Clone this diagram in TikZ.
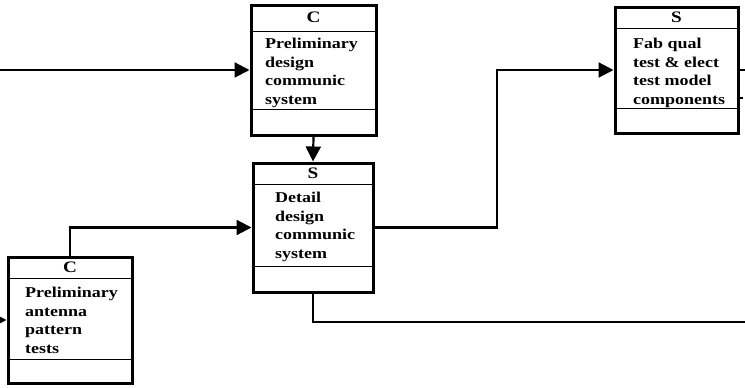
\documentclass[tikz,border=0pt]{standalone}
\usepackage{fontspec}
\setmainfont{Liberation Serif}[FakeStretch=1.2]
\usetikzlibrary{arrows.meta}
\begin{document}
\begin{tikzpicture}[x=1pt,y=-1pt,
  fbox/.style={draw, line width=3pt, inner sep=0pt},
  thinl/.style={line width=1.3pt},
  conn/.style={line width=2.2pt, -{Triangle[length=15pt,width=15pt]}},
  plainl/.style={line width=2.2pt},
  hdr/.style={inner sep=0pt, font=\fontsize{16}{16}\selectfont\bfseries},
  btxt/.style={inner sep=0pt, anchor=north west, align=left, font=\fontsize{15}{18.5}\selectfont\bfseries}]
\useasboundingbox (0,0) rectangle (745,388);
% boxes
\node[fbox, minimum width=125pt, minimum height=130pt] (c1) at (313.5,70) {};
\draw[thinl] ([yshift=-28pt]c1.north west) -- ([yshift=-28pt]c1.north east);
\draw[thinl] ([yshift=27pt]c1.south west) -- ([yshift=27pt]c1.south east);
\node[hdr] (c1h) at ([yshift=-14pt]c1.north) {C};
\node[btxt] (c1t) at (265,38) {Preliminary\\design\\communic\\system};

\node[fbox, minimum width=120pt, minimum height=129pt] (s1) at (313,227.5) {};
\draw[thinl] ([yshift=-23pt]s1.north west) -- ([yshift=-23pt]s1.north east);
\draw[thinl] ([yshift=27pt]s1.south west) -- ([yshift=27pt]s1.south east);
\node[hdr] (s1h) at ([yshift=-11.5pt]s1.north) {S};
\node[btxt] (s1t) at (275,192) {Detail\\design\\communic\\system};

\node[fbox, minimum width=124pt, minimum height=126pt] (c2) at (70,320) {};
\draw[thinl] ([yshift=-23pt]c2.north west) -- ([yshift=-23pt]c2.north east);
\draw[thinl] ([yshift=25pt]c2.south west) -- ([yshift=25pt]c2.south east);
\node[hdr] (c2h) at ([yshift=-11.5pt]c2.north) {C};
\node[btxt] (c2t) at (25,287) {Preliminary\\antenna\\pattern\\tests};

\node[fbox, minimum width=123pt, minimum height=126pt] (s2) at (676.5,70) {};
\draw[thinl] ([yshift=-23pt]s2.north west) -- ([yshift=-23pt]s2.north east);
\draw[thinl] ([yshift=26pt]s2.south west) -- ([yshift=26pt]s2.south east);
\node[hdr] (s2h) at ([yshift=-11.5pt]s2.north) {S};
\node[btxt] (s2t) at (633,38) {Fab qual\\test \& elect\\test model\\components};

% connectors
\coordinate (in1) at (0,70);
\coordinate (in2) at (0,320);
\coordinate (j1) at (497,70);
\coordinate (out1) at (745,322);
\coordinate (out2) at (745,70);
\coordinate (out3) at (745,98);
\draw[conn] (in1) -- (c1.west);
\draw[conn] (c1.south) -- (s1.north);
\draw[conn] (in2) -- (c2.west);
\draw[conn] (c2.north) |- (s1.west);
\draw[conn] (s1.east) -| (j1) -- (s2.west);
\draw[plainl] (s1.south) |- (out1);
\draw[plainl] (s2.east) -- (out2);
\draw[plainl, dashed] (s2.east |- out3) -- (out3);
\end{tikzpicture}
\end{document}
